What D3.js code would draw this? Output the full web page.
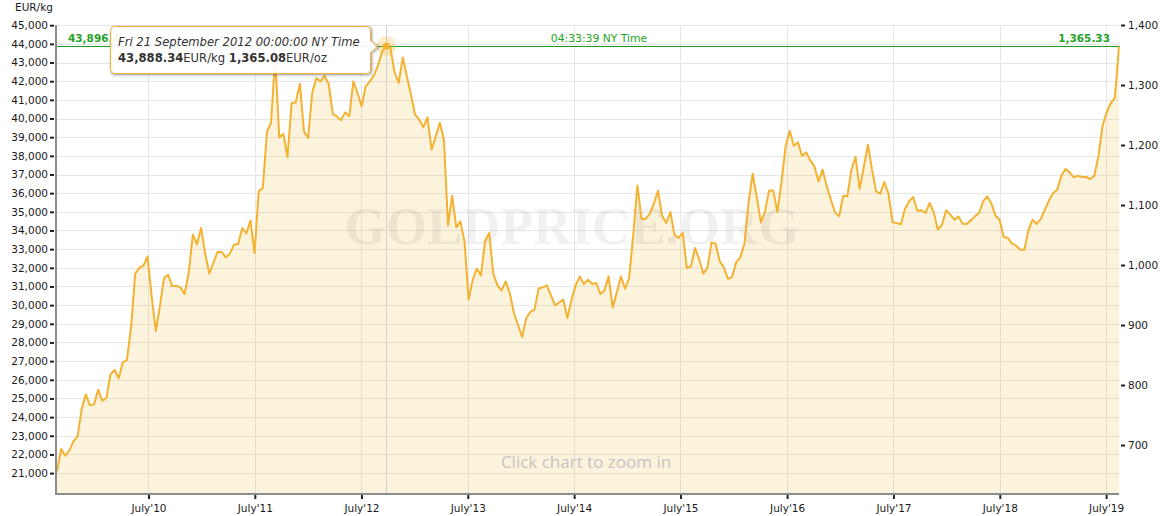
<!DOCTYPE html>
<html><head><meta charset="utf-8">
<script src="https://cdn.jsdelivr.net/npm/d3@7"></script>
<style>
html,body{margin:0;padding:0;background:#fff;}
svg{display:block;font-family:"DejaVu Sans",Verdana,sans-serif;}
</style></head><body>
<svg id="chart" width="1164" height="516"></svg>
<script>
// ---------- DATA ----------
const OZ_PER_KG = 32.1507466;
const sampleStart = "2009-08-21T00:00:00";   // first sample
const sampleEnd   = "2019-08-14T04:33:39";   // live quote
const priceKg = [
 21090, 22294, 21935, 22218, 22701, 22969, 24437, 25219, 24630, 24683,
 25471, 24866, 25027, 26291, 26526, 26076, 26934, 27062, 28830, 31686,
 32008, 32115, 32613, 30470, 28616, 29934, 31456, 31632, 31006, 31043,
 30936, 30598, 31723, 33776, 33256, 34134, 32758, 31686, 32259, 32849,
 32849, 32560, 32758, 33240, 33277, 34134, 33845, 34526, 32796, 36096,
 36278, 39278, 39761, 43300, 38989, 39171, 37917, 40832, 40864, 41866,
 39311, 38957, 41368, 42172, 41990, 42295, 41850, 40243, 40114, 39900,
 40329, 40114, 41990, 41368, 40650, 41722, 41990, 42311, 42847, 43597,
 43888.34,
 43780, 42493, 41904, 43275, 42257, 41277, 40205, 39935, 39525, 40061,
 38330, 39043, 39761, 38866, 34274, 35865, 34167, 34488, 33417, 30293,
 31365, 31954, 31595, 33454, 33867, 31670, 31059, 30775, 31274, 30652,
 29580, 28937, 28294, 29312, 29633, 29757, 30882, 30951, 31059, 30523,
 29988, 30143, 30293, 29312, 30293, 31059, 31541, 31134, 31365, 31134,
 31188, 30598,
 30791, 31541, 29880, 30684, 31541, 30882, 31456, 33776, 36417, 34617,
 34617, 34885, 35437, 36133, 34794, 34402, 34992, 33776, 33599, 33866,
 31991, 32077, 33063, 32473, 31686, 31991, 33363, 33293, 32345, 32024,
 31402, 31509, 32292, 32560, 33293, 35474, 37044, 35796, 34435, 35024,
 36149, 36149, 34992, 36578, 38507, 39348, 38544, 38721, 38009, 38185,
 37757, 37435, 36632, 37258, 36364, 35651, 34971, 34756,
 35865, 35828, 37258, 37939, 36224, 37403, 38598, 37258, 36096, 35972,
 36599, 35972, 34435, 34403, 34327, 35153, 35560, 35796, 35062, 35078,
 34938, 35474, 34971, 34044, 34312, 35078, 34847, 34579, 34756, 34365,
 34349, 34542, 34756, 34938, 35560, 35828, 35437, 34793, 34579, 33652,
 33598, 33293, 33186, 32972, 32972, 34006, 34579, 34349, 34617, 35115,
 35613, 36010, 36187, 36937, 37296, 37114, 36846, 36937, 36867, 36867,
 36760, 36937, 37971, 39616, 40329, 40832, 41100, 43896.4
];
const kgTicks = [21000,22000,23000,24000,25000,26000,27000,28000,29000,30000,
 31000,32000,33000,34000,35000,36000,37000,38000,39000,40000,41000,42000,43000,44000,45000];
const ozTicks = [700,800,900,1000,1100,1200,1300,1400];
const ozRange = [620, 1400];
const xTickDates  = ["2010-07-01","2011-07-01","2012-07-01","2013-07-01","2014-07-01",
                     "2015-07-01","2016-07-01","2017-07-01","2018-07-01","2019-07-01"];
const xTickLabels = ["July'10","July'11","July'12","July'13","July'14",
                     "July'15","July'16","July'17","July'18","July'19"];
const currentKgLabel = "43,896.4";
const currentOzLabel = "1,365.33";
const currentTimeLabel = "04:33:39 NY Time";
const tooltipDateLabel = "Fri 21 September 2012 00:00:00 NY Time";
const tooltipKg = 43888.34, tooltipOz = 1365.08;
const unitLabel = "EUR/kg";
const watermark = "GOLDPRICE.ORG";
const zoomHint = "Click chart to zoom in";

// ---------- LAYOUT ----------
const L = 56, R = 1119, T = 25, B = 493;
const svg = d3.select("#chart");
const start = new Date(sampleStart), end = new Date(sampleEnd);
const step = (end - start) / (priceKg.length - 1);
const data = priceKg.map((v, i) => ({date: new Date(+start + i * step), kg: v}));
const x = d3.scaleTime().domain([start, end]).range([L + 1, R]);
const yOz = d3.scaleLinear().domain(ozRange).range([B, T]);
const yKg = d3.scaleLinear().domain(ozRange.map(v => v * OZ_PER_KG)).range([B, T]);
const parseD = d3.timeParse("%Y-%m-%d");
const crisp = v => Math.round(v) + 0.5;

// grid
const grid = svg.append("g");
grid.selectAll("line.h").data(kgTicks).join("line").attr("class","h")
  .attr("x1", L).attr("x2", R)
  .attr("y1", d => crisp(yKg(d))).attr("y2", d => crisp(yKg(d)))
  .attr("stroke", "#e6e6e6").attr("stroke-width", 1);
grid.selectAll("line.v").data(xTickDates).join("line").attr("class","v")
  .attr("x1", d => crisp(x(parseD(d)))).attr("x2", d => crisp(x(parseD(d))))
  .attr("y1", T).attr("y2", B)
  .attr("stroke", "#e6e6e6").attr("stroke-width", 1);

// area
svg.append("path").datum(data)
  .attr("d", d3.area().x(d => x(d.date)).y0(B).y1(d => yKg(d.kg)))
  .attr("fill", "rgba(240,190,60,0.18)");

// watermark
svg.append("text").attr("x", 572).attr("y", 244).attr("text-anchor", "middle")
  .attr("font-family", "'Liberation Serif', serif").attr("font-weight", "bold")
  .attr("font-size", 53).attr("fill", "rgba(0,0,0,0.055)").text(watermark);

// zoom hint
svg.append("text").attr("x", 586).attr("y", 468).attr("text-anchor", "middle")
  .attr("font-family", "'Open Sans', sans-serif").attr("font-size", 17)
  .attr("fill", "#c4c4c4").text(zoomHint);

// crosshair at tooltip point
const ti = priceKg.indexOf(tooltipKg);
const tp = data[ti];
svg.append("line").attr("x1", crisp(x(tp.date))).attr("x2", crisp(x(tp.date)))
  .attr("y1", T).attr("y2", B).attr("stroke", "#d2d2d2").attr("stroke-width", 1);

// price line
svg.append("path").datum(data)
  .attr("d", d3.line().x(d => x(d.date)).y(d => yKg(d.kg)))
  .attr("fill", "none").attr("stroke", "#f4b233").attr("stroke-width", 2)
  .attr("stroke-linejoin", "round");

// current price line and labels
const curY = yKg(priceKg[priceKg.length - 1]);
svg.append("line").attr("x1", L).attr("x2", R).attr("y1", crisp(curY)).attr("y2", crisp(curY))
  .attr("stroke", "#1c9c1c").attr("stroke-width", 1.2);
svg.append("text").attr("x", 68).attr("y", curY - 3.5).attr("font-size", 10.5)
  .attr("font-weight", "bold").attr("fill", "#26a226").text(currentKgLabel);
svg.append("text").attr("x", 599).attr("y", curY - 3.5).attr("font-size", 10.8)
  .attr("text-anchor", "middle").attr("fill", "#1aa51a").text(currentTimeLabel);
svg.append("text").attr("x", 1110).attr("y", curY - 3.5).attr("font-size", 10.5)
  .attr("text-anchor", "end").attr("font-weight", "bold").attr("fill", "#26a226").text(currentOzLabel);

// axes
const styleAxis = g => {
  g.select(".domain").remove();
  g.selectAll(".tick line").attr("stroke", "#222").attr("stroke-width", 2);
  g.selectAll(".tick text").attr("fill", "#1a1a1a").attr("font-size", 10.5)
    .attr("font-family", "'DejaVu Sans', Verdana, sans-serif");
};
svg.append("g").attr("transform", `translate(54,0)`)
  .call(d3.axisLeft(yKg).tickValues(kgTicks).tickFormat(d3.format(",")).tickSize(4).tickSizeOuter(0).tickPadding(2))
  .call(styleAxis);
svg.append("g").attr("transform", `translate(1121,0)`)
  .call(d3.axisRight(yOz).tickValues(ozTicks).tickFormat(d3.format(",")).tickSize(4).tickSizeOuter(0).tickPadding(3))
  .call(styleAxis);
svg.append("g").attr("transform", `translate(0,495)`)
  .call(d3.axisBottom(x).tickValues(xTickDates.map(parseD))
        .tickFormat((d, i) => xTickLabels[i]).tickSize(4).tickSizeOuter(0).tickPadding(6))
  .call(styleAxis);
// axis lines
svg.append("line").attr("x1", 56).attr("x2", 56).attr("y1", T).attr("y2", 495)
  .attr("stroke", "#8c8c8c").attr("stroke-width", 2);
svg.append("line").attr("x1", 55).attr("x2", R).attr("y1", 494).attr("y2", 494)
  .attr("stroke", "#8c8c8c").attr("stroke-width", 2);
svg.append("text").attr("x", 15).attr("y", 11).attr("font-size", 10.5)
  .attr("fill", "#1a1a1a").text(unitLabel);

// tooltip marker
const px = x(tp.date), py = yKg(tp.kg);
svg.append("circle").attr("cx", px).attr("cy", py).attr("r", 10)
  .attr("fill", "rgba(244,178,51,0.25)");
svg.append("circle").attr("cx", px).attr("cy", py).attr("r", 3.5)
  .attr("fill", "#f4b233");

// tooltip box with arrow pointing to the point
const bx0 = 110.5, by0 = 26.5, bx1 = 370.5, by1 = 73.5, rr = 4, tipX = px - 9, ay = Math.round(py) + 0.5;
const tipPath = `M${bx0+rr},${by0} L${bx1-rr},${by0} Q${bx1},${by0} ${bx1},${by0+rr}
  L${bx1},${ay-6} L${tipX},${ay} L${bx1},${ay+6} L${bx1},${by1-rr} Q${bx1},${by1} ${bx1-rr},${by1}
  L${bx0+rr},${by1} Q${bx0},${by1} ${bx0},${by1-rr} L${bx0},${by0+rr} Q${bx0},${by0} ${bx0+rr},${by0} Z`;
[[5,0.05],[3,0.1],[1,0.15]].forEach(([w,o]) => {
  svg.append("path").attr("d", tipPath).attr("transform", "translate(1,1)")
    .attr("fill", "none").attr("stroke", "#000").attr("stroke-opacity", o).attr("stroke-width", w);
});
svg.append("path").attr("d", tipPath).attr("fill", "rgba(255,255,255,0.92)")
  .attr("stroke", "#f4b233").attr("stroke-width", 1);
svg.append("text").attr("x", 118).attr("y", 45.7).attr("font-size", 11.6)
  .attr("font-style", "italic").attr("fill", "#333").text(tooltipDateLabel);
const t2 = svg.append("text").attr("x", 118).attr("y", 61.5).attr("font-size", 11.6).attr("fill", "#333");
t2.append("tspan").attr("font-weight", "bold").text(d3.format(",.2f")(tooltipKg));
t2.append("tspan").text("EUR/kg ");
t2.append("tspan").attr("font-weight", "bold").text(d3.format(",.2f")(tooltipOz));
t2.append("tspan").text("EUR/oz");
</script>
</body></html>
